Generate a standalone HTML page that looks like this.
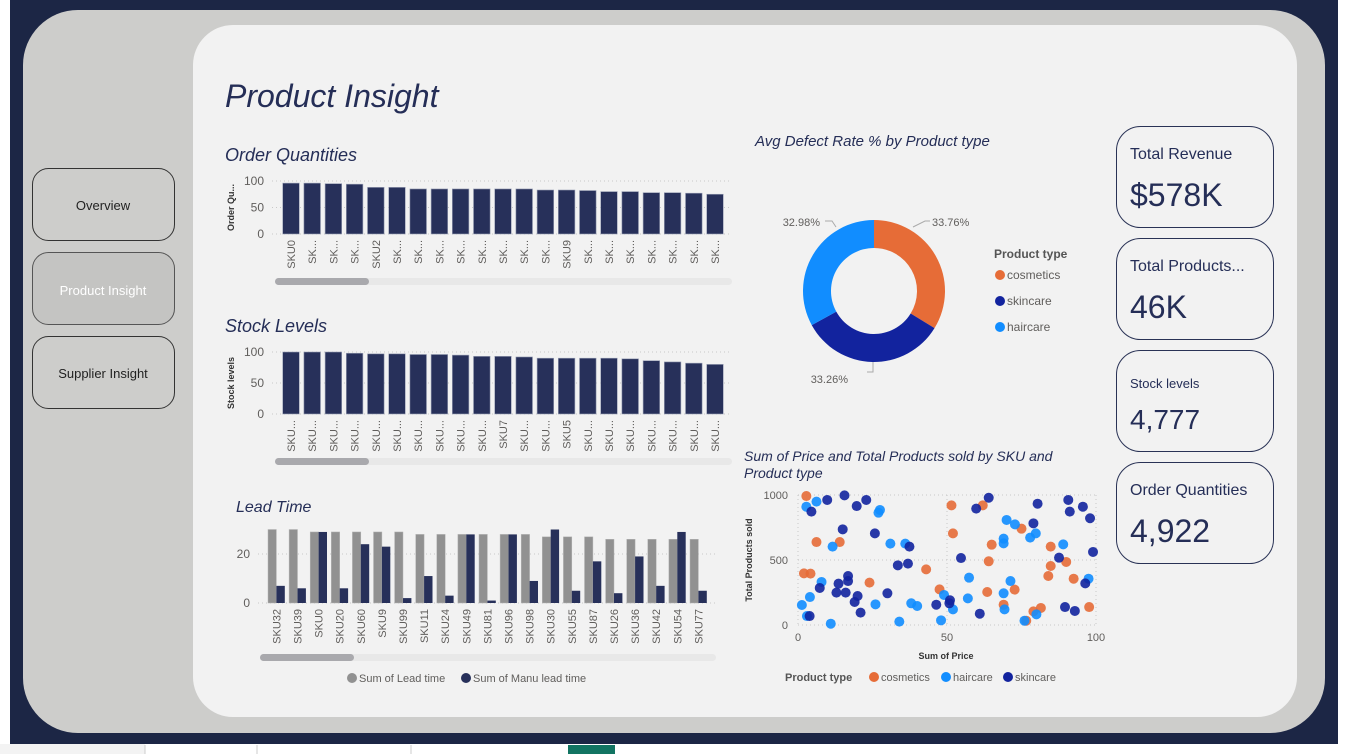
<!DOCTYPE html>
<html><head><meta charset="utf-8"><style>
html,body{margin:0;padding:0;width:1349px;height:754px;overflow:hidden;background:#fff;font-family:"Liberation Sans",sans-serif}
svg{display:block}
</style></head><body>
<svg id="s" width="1349" height="754" xmlns="http://www.w3.org/2000/svg" font-family="Liberation Sans, sans-serif">
<rect x="10" y="0" width="1328" height="744" fill="#1c2645"/>
<rect x="0" y="744" width="1349" height="10" fill="#ffffff"/>
<rect x="0" y="744" width="145" height="10" fill="#f3f3f3"/>
<line x1="145" y1="745" x2="145" y2="754" stroke="#ccc"/><line x1="257" y1="745" x2="257" y2="754" stroke="#ccc"/><line x1="411" y1="745" x2="411" y2="754" stroke="#ccc"/>
<rect x="568" y="745" width="47" height="9" fill="#127462"/>
<rect x="23" y="10" width="1302" height="723" rx="55" fill="#cdcdcb"/>
<rect x="193" y="25" width="1104" height="692" rx="40" fill="#f2f2f2"/>

<g><rect x="32.5" y="168.5" width="142" height="72" rx="16" fill="#cdcdcb" stroke="#333" stroke-width="1"/><text x="103" y="210" font-size="13" text-anchor="middle" fill="#222">Overview</text></g>
<g><rect x="32.5" y="252.5" width="142" height="72" rx="16" fill="#c4c4c2" stroke="#555" stroke-width="1"/><text x="103" y="295" font-size="13" text-anchor="middle" fill="#fff">Product Insight</text></g>
<g><rect x="32.5" y="336.5" width="142" height="72" rx="16" fill="#cdcdcb" stroke="#333" stroke-width="1"/><text x="103" y="378" font-size="13" text-anchor="middle" fill="#222">Supplier Insight</text></g>

<text x="225" y="107" font-size="32" font-style="italic" fill="#252e57">Product Insight</text>
<text x="225" y="161" font-size="18" font-style="italic" fill="#252e57">Order Quantities</text>
<text x="225" y="332" font-size="18" font-style="italic" fill="#252e57">Stock Levels</text>
<text x="236" y="512" font-size="16" font-style="italic" fill="#252e57">Lead Time</text>
<text x="755" y="146" font-size="15" font-style="italic" fill="#252e57">Avg Defect Rate % by Product type</text>
<text x="744" y="461" font-size="14" font-style="italic" fill="#252e57">Sum of Price and Total Products sold by SKU and</text>
<text x="744" y="478" font-size="14" font-style="italic" fill="#252e57">Product type</text>

<g><rect x="1116.5" y="126.5" width="157" height="101" rx="24" fill="#f2f2f2" stroke="#2a3356"/><text x="1130" y="159" font-size="16" fill="#252e57">Total Revenue</text><text x="1130" y="206" font-size="32" fill="#252e57">$578K</text></g>
<g><rect x="1116.5" y="238.5" width="157" height="101" rx="24" fill="#f2f2f2" stroke="#2a3356"/><text x="1130" y="271" font-size="16" fill="#252e57">Total Products...</text><text x="1130" y="318" font-size="32" fill="#252e57">46K</text></g>
<g><rect x="1116.5" y="350.5" width="157" height="101" rx="24" fill="#f2f2f2" stroke="#2a3356"/><text x="1130" y="388" font-size="13" fill="#252e57">Stock levels</text><text x="1130" y="429" font-size="28" fill="#252e57">4,777</text></g>
<g><rect x="1116.5" y="462.5" width="157" height="101" rx="24" fill="#f2f2f2" stroke="#2a3356"/><text x="1130" y="495" font-size="16" fill="#252e57">Order Quantities</text><text x="1130" y="542" font-size="32" fill="#252e57">4,922</text></g>

<g id="g-order"></g><g id="g-stock"></g><g id="g-lead"></g><g id="g-donut"></g><g id="g-scatter"></g>
</svg>
<script>
const orderLabels=["SKU0","SK...","SK...","SK...","SKU2","SK...","SK...","SK...","SK...","SK...","SK...","SK...","SK...","SKU9","SK...","SK...","SK...","SK...","SK...","SK...","SK..."];
const orderValues=[96,96,95,94,88,88,85,85,85,85,85,85,83,83,82,80,80,78,78,77,75];
const stockLabels=["SKU...","SKU...","SKU...","SKU...","SKU...","SKU...","SKU...","SKU...","SKU...","SKU...","SKU7","SKU...","SKU...","SKU5","SKU...","SKU...","SKU...","SKU...","SKU...","SKU...","SKU..."];
const stockValues=[100,100,100,98,97,97,96,96,95,93,93,92,90,90,90,90,89,86,84,82,80];
const leadLabels=["SKU32","SKU39","SKU0","SKU20","SKU60","SKU9","SKU99","SKU11","SKU24","SKU49","SKU81","SKU96","SKU98","SKU30","SKU55","SKU87","SKU26","SKU36","SKU42","SKU54","SKU77"];
const leadTime=[30,30,29,29,29,29,29,28,28,28,28,28,28,27,27,27,26,26,26,26,26];
const manuLeadTime=[7,6,29,6,24,23,2,11,3,28,1,28,9,30,5,17,4,19,7,29,5];
const donutTypes=["cosmetics","skincare","haircare"];
const donutValues=[33.76,33.26,32.98];
const cosmeticsPts=[[2.8,992],[6.2,638],[14,638],[2,397],[4.2,395],[24,326],[43,428],[47.5,274],[51.5,920],[52,705],[62,920],[65,618],[64,490],[63.5,254],[69,156],[72.7,272],[75,741],[76.6,33],[79,105],[81.5,131],[84.8,603],[84.8,454],[84,377],[90,485],[92.5,356],[97.7,138]];
const haircarePts=[[2.8,910],[6.2,949],[4,215],[1.3,154],[3,69],[7.9,331],[11.6,603],[11,10],[27,864],[27.5,885],[26,159],[31,626],[34,26],[36,626],[38,167],[40,146],[48,36],[49,231],[52,120],[57,205],[57.4,364],[69,664],[69,628],[70,808],[72.8,774],[77.9,672],[79.8,705],[71.3,338],[69,244],[69.3,120],[76,33],[80,82],[89,620],[97.5,356]];
const skincarePts=[[4.5,872],[9.8,962],[15.6,997],[19.7,915],[22.9,962],[15,736],[25.8,705],[7.3,285],[13.6,318],[16.8,377],[16.8,338],[12.9,249],[16,249],[20,223],[19,177],[21,95],[30,244],[33.5,459],[36.9,472],[37.4,603],[3.9,69],[46.4,156],[51,190],[50.8,167],[54.7,515],[59.8,895],[64,979],[61,87],[79,782],[80.4,933],[87.6,518],[90.7,962],[91.2,872],[89.6,138],[92.9,108],[95.6,910],[98,821],[96.4,320],[99,562]];

const NS="http://www.w3.org/2000/svg";
function el(p,t,a,txt){const e=document.createElementNS(NS,t);for(const k in a)e.setAttribute(k,a[k]);if(txt!==undefined)e.textContent=txt;p.appendChild(e);return e;}
const C_NAVY="#27305a",C_GREY="#919191",AX="#605e5c";

function barChart(gid,labels,vals,y0,y100,ticks,ytitle,name){
  const g=document.getElementById(gid);
  const x0=282.7,pitch=21.2,bw=16.6,xr=732;
  const ys=v=>y0-(v/100)*(y0-y100);
  ticks.forEach(t=>{el(g,"line",{x1:272,x2:xr,y1:ys(t),y2:ys(t),stroke:"#c8c8c8","stroke-dasharray":"1,3"});
    const tl=el(g,"text",{x:264,y:ys(t)+4,"font-size":12,"text-anchor":"end",fill:AX},t);
    
    });
  const yt=el(g,"text",{transform:`translate(234,${(y0+y100)/2}) rotate(-90)`,"font-size":ytitle.length>10?9:10,"text-anchor":"middle",fill:"#333","font-weight":"bold"},ytitle);
  
  
  vals.forEach((v,i)=>{const x=x0+i*pitch;
    const r=el(g,"rect",{x:x,y:ys(v),width:bw,height:y0-ys(v),fill:C_NAVY,stroke:"#9aa0b5","stroke-width":0.6});
    
    
    const t=el(g,"text",{transform:`translate(${x+bw/2+4},${y0+6}) rotate(-90)`,"font-size":11,"text-anchor":"end",fill:AX},labels[i]);
    
    });
  const sb=el(g,"rect",{x:275,y:y0+44,width:457,height:7,rx:3.5,fill:"#e8e8e8"});
  
  
  const th=el(g,"rect",{x:275,y:y0+44,width:94,height:7,rx:3.5,fill:"#a9a9ad"});
  
  
}
barChart("g-order",orderLabels,orderValues,234,181,[0,50,100],"Order Qu...","order-quantity");
barChart("g-stock",stockLabels,stockValues,414,352,[0,50,100],"Stock levels","stock-level");

(function(){
  const g=document.getElementById("g-lead");
  const y0=603,per=2.45,x0=268,pitch=21.1,bw=8.4;
  const ys=v=>y0-v*per;
  [0,20].forEach(t=>{el(g,"line",{x1:258,x2:716,y1:ys(t),y2:ys(t),stroke:"#c8c8c8","stroke-dasharray":"1,3"});
    const tl=el(g,"text",{x:250,y:ys(t)+4,"font-size":12,"text-anchor":"end",fill:AX},t);
    
    });
  leadTime.forEach((v,i)=>{const x=x0+i*pitch;
    const a=el(g,"rect",{x:x,y:ys(v),width:bw,height:v*per,fill:C_GREY,stroke:"#b5b5b5","stroke-width":0.5});
    
    
    const b=el(g,"rect",{x:x+bw,y:ys(manuLeadTime[i]),width:bw,height:manuLeadTime[i]*per,fill:C_NAVY});
    
    
    const t=el(g,"text",{transform:`translate(${x+bw+4},${y0+6}) rotate(-90)`,"font-size":11,"text-anchor":"end",fill:AX},leadLabels[i]);
    
    });
  const sb=el(g,"rect",{x:260,y:654,width:456,height:7,rx:3.5,fill:"#e8e8e8"});
  
  
  const th=el(g,"rect",{x:260,y:654,width:94,height:7,rx:3.5,fill:"#a9a9ad"});
  
  
  const l1=el(g,"g",{});
  
  
  el(l1,"circle",{cx:352,cy:678,r:5,fill:C_GREY});el(l1,"text",{x:359,y:682,"font-size":11,fill:AX},"Sum of Lead time");
  const l2=el(g,"g",{});
  
  
  el(l2,"circle",{cx:466,cy:678,r:5,fill:C_NAVY});el(l2,"text",{x:473,y:682,"font-size":11,fill:AX},"Sum of Manu lead time");
})();

(function(){
  const g=document.getElementById("g-donut");
  const cx=874,cy=291,R=71,r=43,cols=["#e66c37","#12239e","#118dff"];
  const tot=donutValues.reduce((a,b)=>a+b,0);let a0=0;
  const pt=(a,rad)=>[cx+rad*Math.sin(a),cy-rad*Math.cos(a)];
  donutValues.forEach((v,i)=>{const a1=a0+v/tot*2*Math.PI;const lg=(a1-a0)>Math.PI?1:0;
    const p1=pt(a0,R),p2=pt(a1,R),p3=pt(a1,r),p4=pt(a0,r);
    const s=el(g,"path",{d:`M${p1} A${R},${R} 0 ${lg} 1 ${p2} L${p3} A${r},${r} 0 ${lg} 0 ${p4}Z`,fill:cols[i]});
    
    
    a0=a1;});
  const lbl=[[930,226,"start","M913,227 L925,221 L930,221"],[848,383,"end","M873,362 L873,372 L867,372"],[820,226,"end","M825,221 L832,221 L836,227"]];
  donutValues.forEach((v,i)=>{const L=lbl[i];
    el(g,"path",{d:L[3],fill:"none",stroke:"#aaa"});
    const t=el(g,"text",{x:L[0]+(i==0?2:0),y:L[1],"font-size":11,"text-anchor":L[2],fill:AX},v.toFixed(2)+"%");
    
    });
  const lt=el(g,"text",{x:994,y:258,"font-size":12,"font-weight":"bold",fill:"#555"},"Product type");
  
  
  [["cosmetics",cols[0],275],["skincare",cols[1],301],["haircare",cols[2],327]].forEach(d=>{
    const e=el(g,"g",{});
    
    
    el(e,"circle",{cx:1000,cy:d[2],r:5,fill:d[1]});el(e,"text",{x:1007,y:d[2]+4,"font-size":12,fill:AX},d[0]);});
})();

(function(){
  const g=document.getElementById("g-scatter");
  const xs=v=>798+v*2.98, ys=v=>625-v*0.13;
  [0,500,1000].forEach(t=>{el(g,"line",{x1:798,x2:1096,y1:ys(t),y2:ys(t),stroke:"#c8c8c8","stroke-dasharray":"1,3"});
    const tl=el(g,"text",{x:788,y:ys(t)+4,"font-size":11,"text-anchor":"end",fill:AX},t);
    
    });
  [0,50,100].forEach(t=>{el(g,"line",{x1:xs(t),x2:xs(t),y1:495,y2:625,stroke:"#c8c8c8","stroke-dasharray":"1,3"});
    const tl=el(g,"text",{x:xs(t),y:641,"font-size":11,"text-anchor":"middle",fill:AX},t);
    
    });
  const xt=el(g,"text",{x:946,y:659,"font-size":9,"text-anchor":"middle",fill:"#333","font-weight":"bold"},"Sum of Price");
  
  
  const yt=el(g,"text",{transform:"translate(752,560) rotate(-90)","font-size":9,"text-anchor":"middle",fill:"#333","font-weight":"bold"},"Total Products sold");
  
  
  [[cosmeticsPts,"#e66c37","cosmetics"],[haircarePts,"#118dff","haircare"],[skincarePts,"#12239e","skincare"]].forEach(s=>{
    s[0].forEach(p=>{const c=el(g,"circle",{cx:xs(p[0]),cy:ys(p[1]),r:5,fill:s[1],"fill-opacity":0.9});
      
      });});
  const lt=el(g,"text",{x:785,y:681,"font-size":11,"font-weight":"bold",fill:"#555"},"Product type");
  
  
  [["cosmetics","#e66c37",874],["haircare","#118dff",946],["skincare","#12239e",1008]].forEach(d=>{
    const e=el(g,"g",{});
    
    
    el(e,"circle",{cx:d[2],cy:677,r:5,fill:d[1]});el(e,"text",{x:d[2]+7,y:681,"font-size":11,fill:AX},d[0]);});
})();
</script>
</body></html>
